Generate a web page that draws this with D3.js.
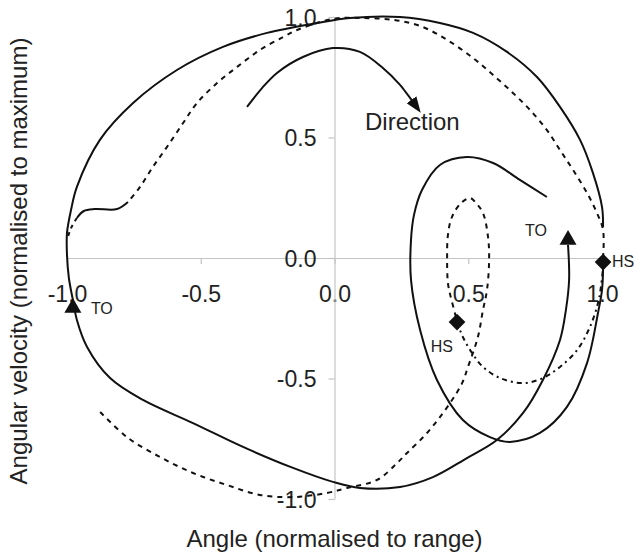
<!DOCTYPE html>
<html>
<head>
<meta charset="utf-8">
<script src="https://cdn.jsdelivr.net/npm/d3@7"></script>
<style>
  body { margin: 0; background: #fff; }
  text { font-family: "Liberation Sans", Arial, sans-serif; fill: #222; }
</style>
</head>
<body>
<script>
// angle (x) vs angular velocity (y), both normalised
var xTicks = [-1.0, -0.5, 0.0, 0.5, 1.0];
var yTicks = [-1.0, -0.5, 0.0, 0.5, 1.0];

// solid trace, big outer loop (from the right TO round to the right edge)
var solidOuter = [
  [0.873, 0.054], [0.877, -0.091], [0.865, -0.216], [0.843, -0.340], [0.779, -0.506],
  [0.705, -0.643], [0.607, -0.755], [0.495, -0.830], [0.368, -0.909], [0.245, -0.950],
  [0.095, -0.954], [-0.006, -0.929], [-0.155, -0.871], [-0.342, -0.784], [-0.529, -0.685],
  [-0.716, -0.589], [-0.839, -0.498], [-0.925, -0.369], [-0.963, -0.257], [-0.978, -0.174],
  [-0.993, -0.083], [-1.0, 0.012], [-1.0, 0.104], [-0.985, 0.199], [-0.963, 0.295],
  [-0.877, 0.490], [-0.753, 0.643], [-0.589, 0.780], [-0.417, 0.876], [-0.252, 0.934],
  [-0.065, 0.975], [0.058, 0.996], [0.245, 1.0], [0.394, 0.975], [0.518, 0.934],
  [0.645, 0.855], [0.757, 0.751], [0.843, 0.627], [0.918, 0.490], [0.966, 0.353],
  [1.0, 0.212], [1.004, 0.129]
];

// solid trace, inner loop (from the right HS)
var solidInner = [
  [1.004, -0.041], [1.0, -0.133], [0.985, -0.228], [0.944, -0.436], [0.869, -0.618],
  [0.768, -0.726], [0.656, -0.763], [0.581, -0.743], [0.480, -0.672], [0.383, -0.506],
  [0.320, -0.299], [0.286, -0.091], [0.286, 0.075], [0.297, 0.178], [0.327, 0.282],
  [0.394, 0.386], [0.495, 0.419], [0.593, 0.394], [0.693, 0.324], [0.794, 0.253]
];

// short solid piece on the dashed trace, left side
var solidKink = [
  [-0.963, 0.166], [-0.937, 0.195], [-0.896, 0.203], [-0.813, 0.203], [-0.772, 0.232]
];

// dashed trace, upper part (right HS up, over the top, down to the left)
var dashUpper = [
  [1.004, 0.0], [1.004, 0.116], [0.981, 0.187], [0.944, 0.270], [0.892, 0.365],
  [0.843, 0.448], [0.794, 0.531], [0.731, 0.614], [0.667, 0.685], [0.593, 0.759],
  [0.518, 0.830], [0.421, 0.905], [0.320, 0.963], [0.219, 0.988], [0.095, 0.996],
  [-0.006, 0.992], [-0.140, 0.946], [-0.192, 0.917], [-0.279, 0.863], [-0.364, 0.793],
  [-0.439, 0.726], [-0.514, 0.643], [-0.566, 0.560], [-0.626, 0.461], [-0.679, 0.378],
  [-0.727, 0.295], [-0.772, 0.232]
];

var dashLeft = [
  [-0.963, 0.166], [-0.985, 0.124], [-1.0, 0.075]
];

// dashed trace, lower part (bottom left round to the left HS)
var dashLower = [
  [-0.876, -0.639], [-0.776, -0.743], [-0.652, -0.826], [-0.529, -0.892], [-0.402, -0.942],
  [-0.279, -0.983], [-0.155, -0.992], [-0.028, -0.975], [0.047, -0.954], [0.159, -0.921],
  [0.234, -0.851], [0.271, -0.809], [0.346, -0.726], [0.432, -0.602], [0.477, -0.519],
  [0.499, -0.452], [0.536, -0.328], [0.555, -0.216], [0.570, -0.133], [0.578, -0.008],
  [0.574, 0.087], [0.555, 0.187], [0.529, 0.228], [0.507, 0.249], [0.473, 0.228],
  [0.439, 0.170], [0.424, 0.095], [0.421, 0.0], [0.424, -0.104], [0.432, -0.150],
  [0.450, -0.228], [0.458, -0.266]
];

// dashed trace, small loop from the left HS to the right HS
var dashLoop = [
  [0.458, -0.266], [0.480, -0.328], [0.514, -0.394], [0.555, -0.452], [0.619, -0.498],
  [0.705, -0.519], [0.779, -0.498], [0.843, -0.452], [0.907, -0.382], [0.955, -0.286],
  [0.985, -0.187], [0.996, -0.120], [1.004, -0.041]
];

// direction arrow
var arrowPath = [
  [-0.327, 0.627], [-0.271, 0.705], [-0.215, 0.768], [-0.118, 0.834], [-0.006, 0.871],
  [0.095, 0.855], [0.181, 0.788], [0.245, 0.718], [0.292, 0.650]
];

// gait events
var toeOff = [[-0.978, -0.207], [0.873, 0.075]];
var heelStrike = [[1.004, -0.017], [0.458, -0.266]];

var w = 642;
var h = 554;

var svg = d3.select("body")
  .append("svg")
  .attr("width", w)
  .attr("height", h);

var x = d3.scaleLinear().domain([-1, 1]).range([67, 602]);
var y = d3.scaleLinear().domain([-1, 1]).range([499, 17]);

var axisColor = "#c4c4c4";
var fmt = function (d) { return d.toFixed(1); }; // plain hyphen minus like the original

// axes crossing at the origin
var xAxis = svg.append("g")
  .attr("transform", "translate(0," + y(0) + ")")
  .call(d3.axisBottom(x).tickValues(xTicks).tickSize(6).tickSizeOuter(0).tickFormat(fmt));
xAxis.selectAll("text")
  .attr("y", 44)
  .attr("dy", 0)
  .style("font-size", "23px")
  .style("font-family", "Liberation Sans, Arial, sans-serif")
  .attr("fill", "#222");

var yAxis = svg.append("g")
  .attr("transform", "translate(" + x(0) + ",0)")
  .call(d3.axisLeft(y).tickValues(yTicks).tickSize(6).tickSizeOuter(0).tickFormat(fmt));
yAxis.selectAll("text")
  .attr("x", -18)
  .attr("dy", "0.35em")
  .style("font-size", "23px")
  .style("font-family", "Liberation Sans, Arial, sans-serif")
  .attr("fill", "#222");

svg.selectAll(".domain, .tick line")
  .attr("stroke", axisColor)
  .attr("stroke-width", 1.2);

// axis titles
svg.append("text")
  .attr("x", x(0))
  .attr("y", 547)
  .attr("text-anchor", "middle")
  .style("font-size", "24px")
  .text("Angle (normalised to range)");

svg.append("text")
  .attr("transform", "translate(27," + 261 + ") rotate(-90)")
  .attr("text-anchor", "middle")
  .style("font-size", "24px")
  .text("Angular velocity (normalised to maximum)");

var line = d3.line()
  .x(function (d) { return x(d[0]); })
  .y(function (d) { return y(d[1]); })
  .curve(d3.curveCatmullRom);

var traces = [
  { pts: solidOuter, dash: null },
  { pts: solidInner, dash: null },
  { pts: solidKink, dash: null },
  { pts: dashUpper, dash: "5,5" },
  { pts: dashLeft, dash: "4,4" },
  { pts: dashLower, dash: "5,5" },
  { pts: dashLoop, dash: "5,4,2,4" }
];

svg.selectAll("path.trace")
  .data(traces)
  .enter()
  .append("path")
  .attr("class", "trace")
  .attr("d", function (d) { return line(d.pts); })
  .attr("fill", "none")
  .attr("stroke", "#111")
  .attr("stroke-width", 2)
  .attr("stroke-dasharray", function (d) { return d.dash; });

// arrow head marker
svg.append("defs").append("marker")
  .attr("id", "head")
  .attr("viewBox", "0 -6 16 12")
  .attr("refX", 2)
  .attr("refY", 0)
  .attr("markerWidth", 16)
  .attr("markerHeight", 12)
  .attr("markerUnits", "userSpaceOnUse")
  .attr("orient", "auto")
  .append("path")
  .attr("d", "M0,-6L16,0L0,6Z")
  .attr("fill", "#111");

svg.append("path")
  .attr("d", line(arrowPath))
  .attr("fill", "none")
  .attr("stroke", "#111")
  .attr("stroke-width", 2)
  .attr("marker-end", "url(#head)");

svg.append("text")
  .attr("x", 365)
  .attr("y", 130)
  .style("font-size", "24px")
  .text("Direction");

// event markers
svg.selectAll("path.to")
  .data(toeOff)
  .enter()
  .append("path")
  .attr("class", "to")
  .attr("transform", function (d) { return "translate(" + x(d[0]) + "," + y(d[1]) + ")"; })
  .attr("d", d3.symbol().type(d3.symbolTriangle).size(125))
  .attr("fill", "#111");

svg.selectAll("path.hs")
  .data(heelStrike)
  .enter()
  .append("path")
  .attr("class", "hs")
  .attr("transform", function (d) { return "translate(" + x(d[0]) + "," + y(d[1]) + ") rotate(45)"; })
  .attr("d", d3.symbol().type(d3.symbolSquare).size(140))
  .attr("fill", "#111");

// event labels
var evLabels = [
  { p: toeOff[0], t: "TO", dx: 18, dy: 6, anchor: "start" },
  { p: toeOff[1], t: "TO", dx: -21, dy: -4, anchor: "end" },
  { p: heelStrike[0], t: "HS", dx: 9, dy: 5, anchor: "start" },
  { p: heelStrike[1], t: "HS", dx: -4, dy: 30, anchor: "end" }
];

svg.selectAll("text.ev")
  .data(evLabels)
  .enter()
  .append("text")
  .attr("class", "ev")
  .attr("x", function (d) { return x(d.p[0]) + d.dx; })
  .attr("y", function (d) { return y(d.p[1]) + d.dy; })
  .attr("text-anchor", function (d) { return d.anchor; })
  .style("font-size", "16px")
  .text(function (d) { return d.t; });
</script>
</body>
</html>
